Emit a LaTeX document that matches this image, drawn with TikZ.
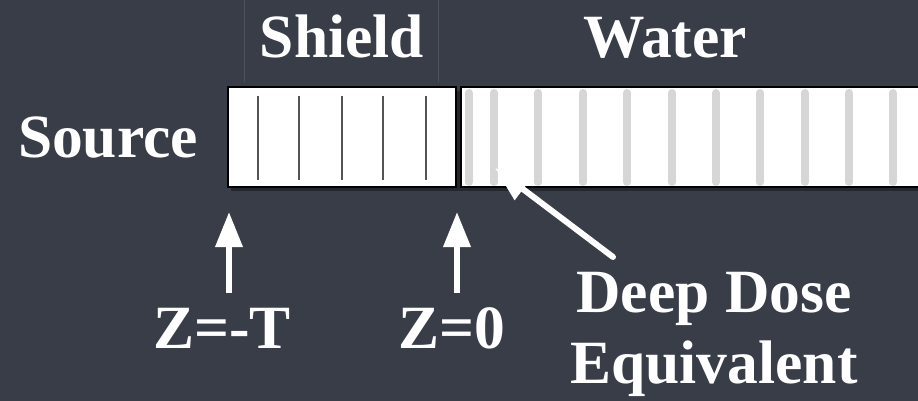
\documentclass[tikz,border=0pt]{standalone}
\usepackage{fontspec}
\setmainfont{Liberation Serif}
\usepackage{xcolor}
\definecolor{slate}{HTML}{383D48}
\definecolor{slateline}{HTML}{4C525D}
\definecolor{layerdark}{HTML}{555555}
\definecolor{layerlight}{HTML}{D6D6D6}
\usepackage{tikz}
\usetikzlibrary{
  arrows.meta,
  positioning,
}

\begin{document}
\begin{tikzpicture}[
  x=0.02cm, y=-0.02cm,
  label/.style={
    font=\fontsize{35}{40}\selectfont\bfseries, text=white,
    inner sep=2pt, anchor=base, align=center,
  },
  slab/.style={
    draw=black, fill=white, line width=1.2pt,
  },
  shieldlayer/.style={
    draw=layerdark, line width=0.9pt,
  },
  waterlayer/.style={
    draw=layerlight, line width=4.5pt, line cap=round,
  },
  pointer/.style={
    -{Triangle[width=15pt,length=20pt]}, draw=white, line width=3.4pt,
  },
]
  % --- board ---
  \useasboundingbox[fill=slate] (0,0) rectangle (918,401);
  \draw[slateline, thin] (244,0) -- (244,82);
  \draw[slateline, thin] (438,0) -- (438,82);

  % --- slabs ---
  \begin{scope}
    \clip (0,0) rectangle (918,401);
    \fill[black, opacity=0.35] (231,91) rectangle (930,191);
    \draw[slab] (228,87) rectangle (456,187);
    \draw[slab] (461,87) rectangle (930,187);
    \foreach \x in {258,299,342,383,426}
      \draw[shieldlayer] (\x,96) -- (\x,180);
    \foreach \x in {469,494,538,583,627,672,716,760,805,849,893}
      \draw[waterlayer] (\x,93) -- (\x,182);
  \end{scope}

  % --- labels ---
  \node[label] (shield) at (342,58)  {Shield};
  \node[label] (water)  at (665,58)  {Water};
  \node[label] (source) at (108,158) {Source};
  \node[label] (zt)     at (222,348) {Z=-T};
  \node[label] (z0)     at (452,348) {Z=0};
  \node[label] (dde)    at (714,383) {Deep Dose\\Equivalent};

  % --- pointers ---
  \coordinate (t-tip)   at (229,212);
  \coordinate (o-tip)   at (457,212);
  \coordinate (dd-tail) at (613,257);
  \coordinate (dd-tip)  at (495,168);
  \draw[pointer, shorten <=6pt] (zt.north -| t-tip) -- (t-tip);
  \draw[pointer, shorten <=6pt] (z0.north -| o-tip) -- (o-tip);
  \draw[pointer, line cap=round] (dd-tail) -- (dd-tip);
\end{tikzpicture}
\end{document}
